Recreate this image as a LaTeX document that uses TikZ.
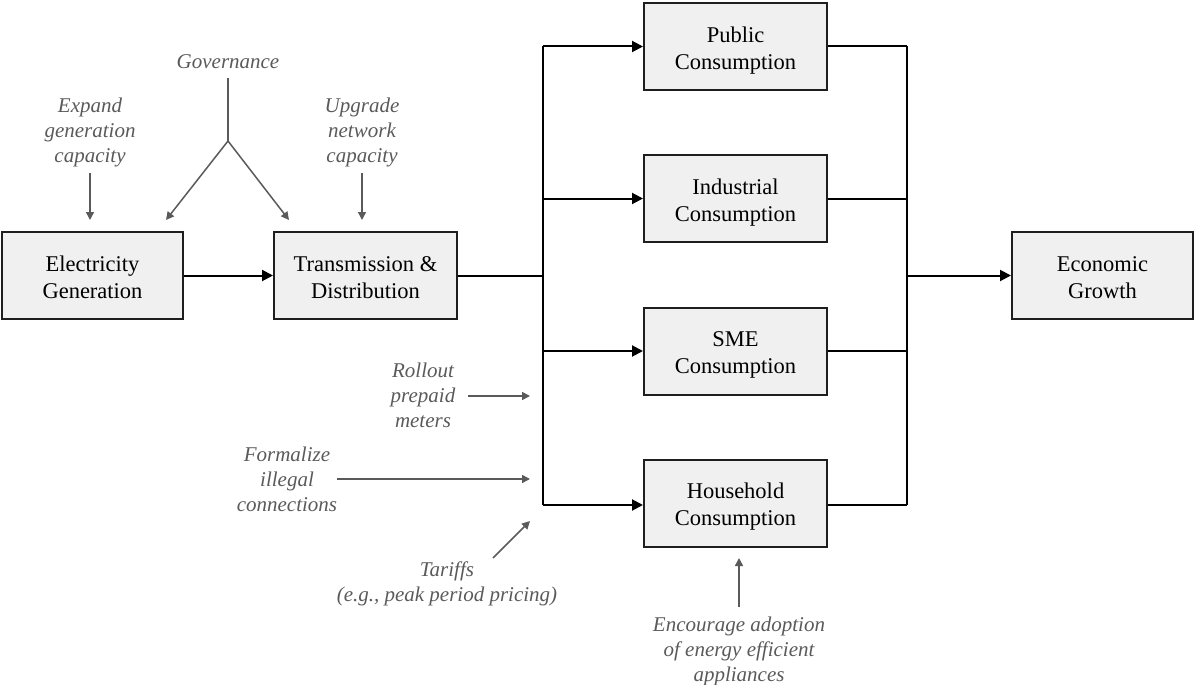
\documentclass[tikz,border=0pt]{standalone}
\usepackage{fontspec}
\setmainfont{Liberation Serif}
\usetikzlibrary{arrows.meta}
\definecolor{boxfill}{HTML}{F0F0F0}
\definecolor{boxline}{HTML}{1E1E1E}
\definecolor{note}{HTML}{5A5A5A}
\newcommand\boxtext[1]{\raisebox{-4pt}[\height][\depth]{\begin{tabular}{@{}c@{}}#1\end{tabular}}}
\begin{document}
\begin{tikzpicture}[x=1pt,y=-1pt,
  box/.style={draw=boxline,line width=2pt,fill=boxfill,minimum width=183pt,minimum height=87pt,
    align=center,font=\fontsize{22.5pt}{27pt}\selectfont,text=black,inner sep=0pt},
  notetext/.style={align=center,text=note,font=\fontsize{21pt}{25pt}\selectfont\itshape,inner sep=0pt},
  mainline/.style={line width=2pt,draw=black},
  mainarrow/.style={mainline,-{Triangle[length=11pt,width=11pt]}},
  notearrow/.style={line width=1.5pt,draw=note,-{Triangle[length=8pt,width=8pt]}},
  noteline/.style={line width=1.5pt,draw=note}]
\useasboundingbox (0,0) rectangle (1195,685);

% boxes
\node[box,minimum width=181pt] (eg) at (92.5,275.5) {\boxtext{Electricity\\Generation}};
\node[box] (td) at (365.5,275.5) {\boxtext{Transmission \&\\Distribution}};
\node[box] (pub) at (735.5,46.5) {\boxtext{Public\\Consumption}};
\node[box] (ind) at (735.5,198.5) {\boxtext{Industrial\\Consumption}};
\node[box] (sme) at (735.5,351) {\boxtext{SME\\Consumption}};
\node[box] (hh) at (735.5,503) {\boxtext{Household\\Consumption}};
\node[box,minimum width=181pt] (eco) at (1102.5,275.5) {\boxtext{Economic\\Growth}};

% bus coordinates
\coordinate (lb1) at (543,46.5);
\coordinate (lb2) at (543,198.5);
\coordinate (lb3) at (543,351);
\coordinate (lb4) at (543,505);
\coordinate (lbm) at (543,275.5);
\coordinate (rb1) at (907,46.5);
\coordinate (rb4) at (907,505);
\coordinate (rbm) at (907,275.5);

% main flow
\draw[mainarrow] (eg.east) -- (td.west);
\draw[mainline] (td.east) -- (lbm);
\draw[mainline] (lb1) -- (lb4);
\draw[mainarrow] (lb1) -- (pub.west);
\draw[mainarrow] (lb2) -- (ind.west);
\draw[mainarrow] (lb3) -- (sme.west);
\draw[mainarrow] (lb4) -- (hh.west |- lb4);
\draw[mainline] (pub.east) -- (rb1);
\draw[mainline] (ind.east) -- (ind.east -| rb1);
\draw[mainline] (sme.east) -- (sme.east -| rb1);
\draw[mainline] (hh.east |- rb4) -- (rb4);
\draw[mainline] (rb1) -- (rb4);
\draw[mainarrow] (rbm) -- (eco.west);

% notes
\node[notetext] (gov) at (228,62) {Governance};
\node[notetext] (exp) at (90,132) {Expand\\generation\\capacity};
\node[notetext] (upg) at (362,132) {Upgrade\\network\\capacity};
\node[notetext] (roll) at (423,395) {Rollout\\prepaid\\meters};
\node[notetext] (form) at (287,479) {Formalize\\illegal\\connections};
\node[notetext] (tar) at (447,584) {Tariffs\\(e.g., peak period pricing)};
\node[notetext] (enc) at (739,651) {Encourage adoption\\of energy efficient\\appliances};

% note arrows
\coordinate (govtop) at (228,78);
\coordinate (govj) at (228,141);
\coordinate (govl) at (166,220);
\coordinate (govr) at (289,220);
\draw[noteline] (govtop) -- (govj);
\draw[notearrow] (govj) -- (govl);
\draw[notearrow] (govj) -- (govr);

\coordinate (exps) at (90,173);
\coordinate (expe) at (90,220);
\draw[notearrow] (exps) -- (expe);
\coordinate (upgs) at (362,173);
\coordinate (upge) at (362,220);
\draw[notearrow] (upgs) -- (upge);

\coordinate (rolls) at (468,396);
\coordinate (rolle) at (530,396);
\draw[notearrow] (rolls) -- (rolle);
\coordinate (forms) at (337,479);
\coordinate (forme) at (530,479);
\draw[notearrow] (forms) -- (forme);
\coordinate (tars) at (493,558);
\coordinate (tare) at (530,521);
\draw[notearrow] (tars) -- (tare);
\coordinate (encs) at (739,607);
\coordinate (ence) at (739,558);
\draw[notearrow] (encs) -- (ence);
\end{tikzpicture}
\end{document}
